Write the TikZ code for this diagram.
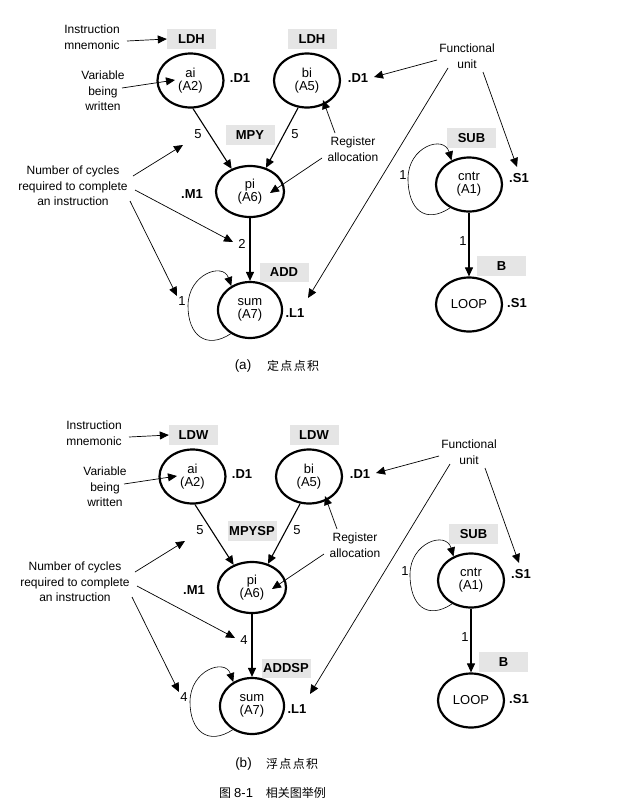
\documentclass[tikz,border=0pt]{standalone}
\usepackage{fontspec}
\setmainfont{Liberation Sans}
\newfontfamily\cjk{Noto Sans CJK SC}
\usetikzlibrary{shapes.geometric,arrows.meta,calc}
\definecolor{tagfill}{gray}{0.9}

\tikzset{
  note/.style={font=\fontsize{12}{15.5}\selectfont, align=center, inner sep=0pt},
  mnem/.style={fill=tagfill, font=\bfseries\fontsize{13}{15}\selectfont,
    minimum width=49pt, minimum height=19.5pt, inner sep=0pt},
  valnode/.style={ellipse, draw, line width=2.2pt, minimum width=66pt,
    minimum height=54pt, inner sep=0pt, align=center,
    font=\fontsize{13}{13}\selectfont},
  unitlbl/.style={font=\bfseries\fontsize{13}{15}\selectfont, inner sep=0pt},
  latlbl/.style={font=\fontsize{13}{15}\selectfont, inner sep=0pt},
  headtip/.style={-{Triangle[length=9pt,width=8pt]}},
  ann/.style={headtip, line width=0.7pt},
  dep/.style={headtip, line width=1.1pt},
  selfdep/.style={headtip, line width=0.6pt},
  captxt/.style={font=\fontsize{13.5}{15}\selectfont, inner sep=0pt},
  capcjk/.style={anchor=west, inner sep=0pt, font=\cjk\fontsize{12}{14}\selectfont},
}

% One dependency graph of the dot-product loop.
% #1 load, #2 multiply, #3 add mnemonic; #4 multiply latency, #5 add latency
\newcommand\dotgraph[5]{%
  % explanatory notes
  \node[note] (instr) at (92,37) {Instruction\\mnemonic};
  \node[note] (varw) at (103,91) {Variable\\being\\written};
  \node[note] (cyc) at (73,186) {Number of cycles\\required to complete\\an instruction};
  \node[note] (reg) at (353,149) {Register\\allocation};
  \node[note] (func) at (467,56) {Functional\\unit};
  % instruction mnemonics
  \node[mnem] (lda) at (191.5,39) {#1};
  \node[mnem] (ldb) at (312,39) {#1};
  \node[mnem] (mul) at (250,135) {#2};
  \node[mnem] (add) at (284,272.5) {#3};
  \node[mnem] (sub) at (471.5,138) {SUB};
  \node[mnem] (br) at (501.5,266) {B};
  % variables with their registers
  \node[valnode] (ai) at (190.5,80.5) {ai\\(A2)};
  \node[valnode] (bi) at (307,80.5) {bi\\(A5)};
  \node[valnode, minimum width=68pt, minimum height=51pt] (pi) at (250,191.5) {pi\\(A6)};
  \node[valnode, minimum width=64pt, minimum height=56pt] (sum) at (250,310) {sum\\(A7)};
  \node[valnode] (cntr) at (469,184.5) {cntr\\(A1)};
  \node[valnode] (loopn) at (469,304.5) {LOOP};
  % functional units
  \node[unitlbl] (uai) at (240,78) {.D1};
  \node[unitlbl] (ubi) at (358,78) {.D1};
  \node[unitlbl] (upi) at (192,194) {.M1};
  \node[unitlbl] (usum) at (295,313) {.L1};
  \node[unitlbl] (ucntr) at (519,178) {.S1};
  \node[unitlbl] (uloop) at (517,303) {.S1};
  % latencies
  \node[latlbl] (lta) at (198,134) {5};
  \node[latlbl] (ltb) at (295,134) {5};
  \node[latlbl] (ltmul) at (242,244) {#4};
  \node[latlbl] (ltadd) at (182,301) {#5};
  \node[latlbl] (ltsub) at (403,175) {1};
  \node[latlbl] (ltbr) at (463,241) {1};
  % data dependencies
  \draw[dep] (ai.-85) -- (pi.129);
  \draw[dep] (bi.-108) -- (pi.56);
  \draw[dep] (pi.south) -- (sum.north);
  \draw[dep] (cntr.south) -- (loopn.north);
  \draw[selfdep] (sum.231) .. controls ($(sum)+(-44,40)$) and ($(sum)+(-62,25)$)
    .. ($(sum)+(-62,-4)$) .. controls ($(sum)+(-62,-36)$) and ($(sum)+(-27,-48)$) .. (sum.128);
  \draw[selfdep] (cntr.231) .. controls ($(cntr)+(-44,40)$) and ($(cntr)+(-61,25)$)
    .. ($(cntr)+(-61,-6)$) .. controls ($(cntr)+(-61,-38)$) and ($(cntr)+(-25,-50)$) .. (cntr.126);
  % note pointers
  \draw[ann] ($(instr)+(35,4)$) -- (lda.west);
  \draw[ann] ($(varw)+(19,-3)$) -- ($(ai)+(-15.5,-0.5)$);
  \draw[ann] ($(cyc)+(60,-10)$) -- ($(lta)+(-15,11)$);
  \draw[ann] ($(cyc)+(62,4)$) -- ($(ltmul)+(-9,-2)$);
  \draw[ann] ($(cyc)+(57,15)$) -- ($(ltadd)+(-5,-5)$);
  \draw[ann] ($(reg)+(-18,-16)$) -- ($(bi)+(16,19.5)$);
  \draw[ann] ($(reg)+(-31,9)$) -- ($(pi)+(20,1.5)$);
  \draw[ann] ($(func)+(-30,4)$) -- ($(ubi)+(16,-1)$);
  \draw[ann] ($(func)+(-19,12)$) -- ($(usum)+(13,-15)$);
  \draw[ann] ($(func)+(16,16)$) -- ($(ucntr)+(-2,-11)$);
}

\begin{document}
\begin{tikzpicture}[x=1pt,y=-1pt]
  \fill[white] (0,0) rectangle (643,809);
  \useasboundingbox (0,0) rectangle (643,809);

  \begin{scope}[name prefix=fx-]
    \dotgraph{LDH}{MPY}{ADD}{2}{1}
  \end{scope}
  \node[captxt] (capa) at (243,366) {(a)};
  \node[capcjk] (capat) at (267,366) {定\kern1.3pt 点\kern1.3pt 点\kern1.3pt 积};

  \begin{scope}[shift={(2,396)}, name prefix=fl-]
    \dotgraph{LDW}{MPYSP}{ADDSP}{4}{4}
  \end{scope}
  \node[captxt] (capb) at (243.5,764) {(b)};
  \node[capcjk] (capbt) at (266,764) {浮\kern1.3pt 点\kern1.3pt 点\kern1.3pt 积};

  \node[anchor=west, inner sep=0pt, font=\fontsize{13}{15}\selectfont] (figcap) at (219,793)
    {{\cjk\fontsize{12}{14}\selectfont 图}\kern3pt 8-1\hspace{13pt}{\cjk\fontsize{12}{14}\selectfont 相关图举例}};
\end{tikzpicture}
\end{document}
